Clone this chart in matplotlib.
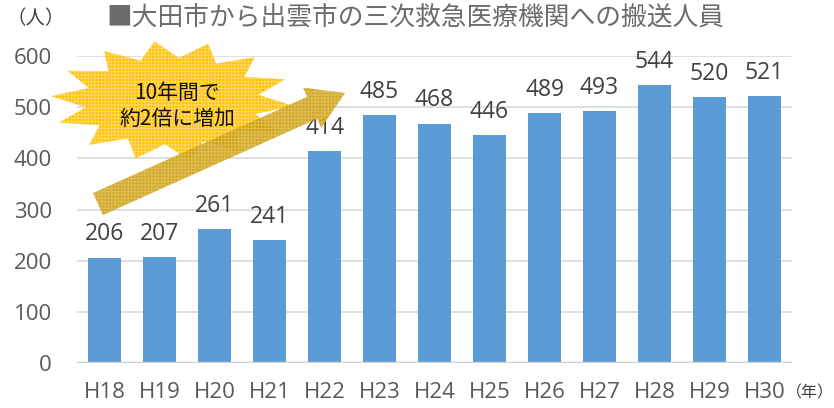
import numpy as np
import matplotlib
matplotlib.use('Agg')
import matplotlib.pyplot as plt
from matplotlib.patches import Polygon, FancyArrow

plt.rcParams['font.family'] = ['Open Sans', 'Noto Sans CJK JP', 'DejaVu Sans']
plt.rcParams['hatch.linewidth'] = 0.7

years = ['H18', 'H19', 'H20', 'H21', 'H22', 'H23', 'H24', 'H25',
         'H26', 'H27', 'H28', 'H29', 'H30']
counts = [206, 207, 261, 241, 414, 485, 468, 446, 489, 493, 544, 520, 521]
yticks = [0, 100, 200, 300, 400, 500, 600]

fig = plt.figure(figsize=(8.34, 4.08), dpi=100)
ax = fig.add_axes([77/834, 45/408, 715/834, 307/408])

x = np.arange(len(years))
bars = ax.bar(x, counts, width=0.6, color='#5B9BD5', zorder=3)
ax.bar_label(bars, labels=[str(v) for v in counts], padding=8,
             fontsize=16.5, color='#404040')

ax.set_xlim(-0.5, len(years) - 0.5)
ax.set_ylim(0, 600)
ax.set_yticks(yticks)
ax.set_xticks(x)
ax.set_xticklabels(years)
ax.tick_params(axis='both', length=0, labelsize=16, colors='#595959')
ax.tick_params(axis='x', pad=14)
ax.tick_params(axis='y', pad=18)
for s in ax.spines.values():
    s.set_visible(False)
ax.grid(axis='y', color='#D9D9D9', linewidth=1.2, zorder=0)
ax.axhline(0, color='#D0D0D0', linewidth=2.5, zorder=4)

# 上に重ねる注釈用 (ピクセル座標)
ov = fig.add_axes([0, 0, 1, 1], zorder=5)
ov.set_xlim(0, 834)
ov.set_ylim(408, 0)
ov.axis('off')

# 爆発形
n = 14
ang = np.linspace(0, 2*np.pi, 2*n, endpoint=False) + 0.08
r = np.where(np.arange(2*n) % 2 == 0, 1.0, 0.72)
cx, cy = 172, 101
px = cx + 121 * r * np.cos(ang)
py = cy + 60 * r * np.sin(ang)
star = Polygon(np.column_stack([px, py]), closed=True, facecolor='#FFC000',
               edgecolor='#FFDB6E', hatch='+++++', linewidth=0)
ov.add_patch(star)

# 矢印
arr = FancyArrow(98, 204, 247, -111, width=24, head_width=44, head_length=36,
                 length_includes_head=True, facecolor='#C99A06',
                 edgecolor='#E2C25E', hatch='+++++', linewidth=0, alpha=0.85)
ov.add_patch(arr)

ov.text(177, 106, '10年間で\n約2倍に増加', ha='center', va='center',
        fontsize=15, color='#111111', linespacing=1.2,
        family=['Noto Sans CJK JP', 'DejaVu Sans'])

ov.text(106, 19, '■大田市から出雲市の三次救急医療機関への搬送人員',
        ha='left', va='center', fontsize=18.5, color='#6B6B6B',
        family=['Noto Sans CJK JP', 'DejaVu Sans'])
ov.text(6, 19, '（人）', ha='left', va='center', fontsize=14, color='#404040',
        family=['Noto Sans CJK JP', 'DejaVu Sans'])
ov.text(834, 393, '（年）', ha='right', va='center', fontsize=11.5, color='#404040',
        family=['Noto Sans CJK JP', 'DejaVu Sans'])

fig.savefig('out.png', dpi=100)
